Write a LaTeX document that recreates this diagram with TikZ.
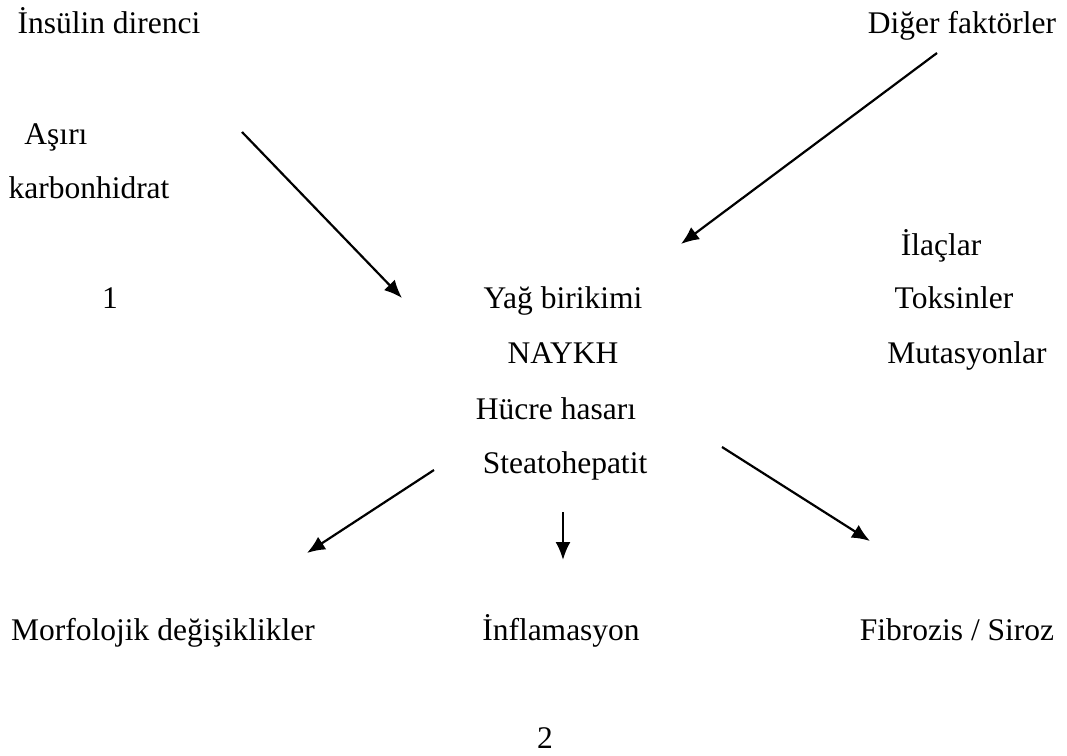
\documentclass[tikz,border=0pt]{standalone}
\usepackage{fontspec}
\setmainfont{Liberation Serif}
\usetikzlibrary{arrows.meta}
\begin{document}
\begin{tikzpicture}[x=0.5pt,y=-0.5pt,
  lbl/.style={anchor=base,inner sep=0pt,font=\rmfamily\fontsize{15.75}{18}\selectfont},
  arr/.style={line width=1.1pt,-{Latex[length=9pt,width=7.5pt]}}]
\useasboundingbox (0,0) rectangle (1067,756);
\node[lbl] (insulin) at (109,33) {İnsülin direnci};
\node[lbl] (diger) at (962,33) {Diğer faktörler};
\node[lbl] (asiri) at (56,144) {Aşırı};
\node[lbl] (karbon) at (89,198) {karbonhidrat};
\node[lbl] (ilac) at (941,255) {İlaçlar};
\node[lbl] (bir) at (110,308) {1};
\node[lbl] (yag) at (563,308) {Yağ birikimi};
\node[lbl] (toks) at (954,308) {Toksinler};
\node[lbl] (naykh) at (563,363) {NAYKH};
\node[lbl] (mut) at (967,363) {Mutasyonlar};
\node[lbl] (hucre) at (556,419) {Hücre hasarı};
\node[lbl] (steato) at (565,473) {Steatohepatit};
\node[lbl] (morf) at (163,640) {Morfolojik değişiklikler};
\node[lbl] (infl) at (561,640) {İnflamasyon};
\node[lbl] (fib) at (957,640) {Fibrozis / Siroz};
\node[lbl] (iki) at (545,748) {2};
\coordinate (a1s) at (242,132); \coordinate (a1e) at (402,298);
\coordinate (a2s) at (937,53);  \coordinate (a2e) at (681,244);
\coordinate (a3s) at (434,470); \coordinate (a3e) at (307,553);
\coordinate (a4s) at (563,512); \coordinate (a4e) at (563,560);
\coordinate (a5s) at (722,447); \coordinate (a5e) at (870,541);
\draw[arr] (a1s) -- (a1e);
\draw[arr] (a2s) -- (a2e);
\draw[arr] (a3s) -- (a3e);
\draw[arr] (a4s) -- (a4e);
\draw[arr] (a5s) -- (a5e);
\end{tikzpicture}
\end{document}
